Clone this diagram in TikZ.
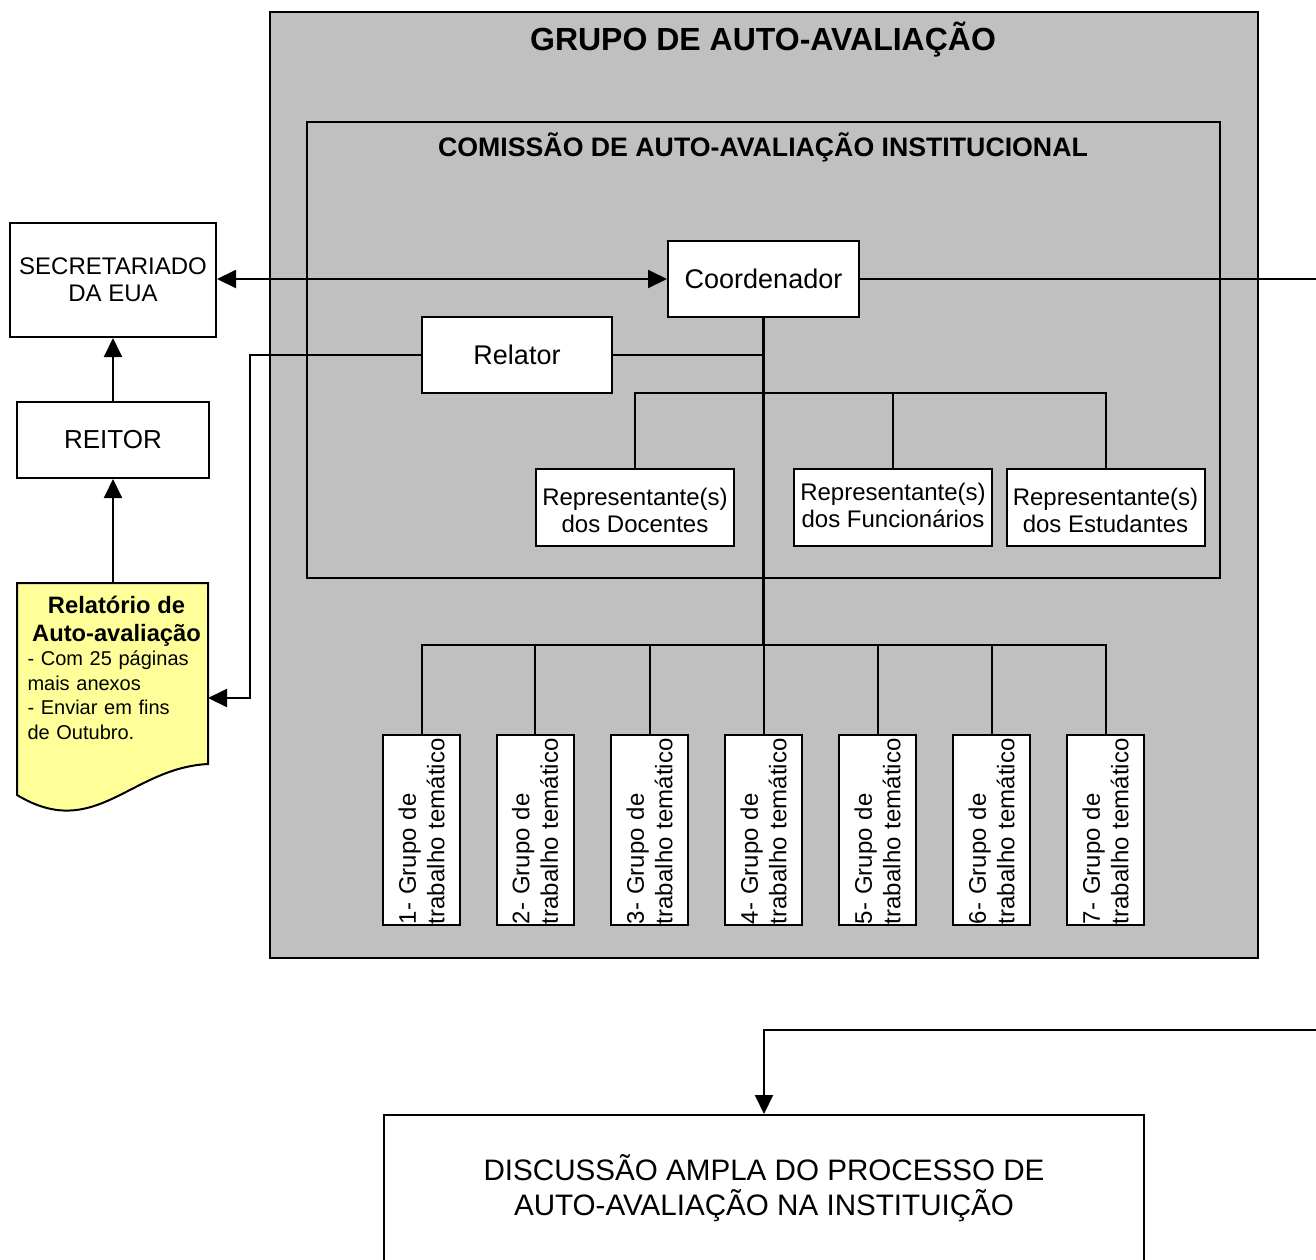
\documentclass[tikz,border=0pt]{standalone}
\usepackage{fontspec}
\setmainfont{Liberation Sans}
\usetikzlibrary{arrows.meta}
\definecolor{panelgray}{HTML}{C0C0C0}
\definecolor{docyellow}{HTML}{FFFF99}
\begin{document}
\begin{tikzpicture}[x=1pt,y=-1pt,line width=2pt,
  box/.style={draw,fill=white,align=center,inner sep=0pt},
  tip/.style={-{Triangle[length=19pt,width=18pt]}},
  tipboth/.style={{Triangle[length=19pt,width=18pt]}-{Triangle[length=19pt,width=18pt]}},
  gbox/.style={draw,fill=white,rotate=90,minimum width=190pt,minimum height=77pt,text width=188pt,inner xsep=1pt,inner ysep=0pt,align=left,font=\fontsize{24}{28.5}\selectfont},
  rep/.style={box,minimum width=198pt,minimum height=77pt,text height=50pt,text depth=0pt,font=\fontsize{24}{27}\selectfont},
  trunk/.style={line width=3pt}]

\useasboundingbox (0,0) rectangle (1316,1259);
\clip (0,0) rectangle (1316,1259);

% outer panel
\draw[fill=panelgray] (270,12) rectangle (1258,958);
\node[font=\fontsize{32}{36}\selectfont\bfseries] (t1) at (763,40) {GRUPO DE AUTO-AVALIAÇÃO};
\draw (307,122) rectangle (1220,578);
\node[font=\fontsize{26.7}{30}\selectfont\bfseries] (t2) at (763,147) {COMISSÃO DE AUTO-AVALIAÇÃO INSTITUCIONAL};

% nodes
\node[box,minimum width=191pt,minimum height=76pt,font=\fontsize{27}{31}\selectfont] (coord) at (763.5,279) {Coordenador};
\node[box,minimum width=190pt,minimum height=76pt,font=\fontsize{27}{31}\selectfont] (rel) at (517,355) {Relator};
\node[box,minimum width=206pt,minimum height=114pt,font=\fontsize{24}{27}\selectfont] (secr) at (113,280) {SECRETARIADO\\DA EUA};
\node[box,minimum width=192pt,minimum height=76pt,font=\fontsize{26}{30}\selectfont] (reitor) at (113,440) {REITOR};

\node[rep] (r1) at (635,507.5) {Representante(s)\\dos Docentes};
\node[rep,text depth=10pt] (r2) at (893,507.5) {Representante(s)\\dos Funcionários};
\node[rep] (r3) at (1105.5,507.5) {Representante(s)\\dos Estudantes};

\node[gbox] (g1) at (421.5,830) {1- Grupo de\\trabalho temático};
\node[gbox] (g2) at (535,830) {2- Grupo de\\trabalho temático};
\node[gbox] (g3) at (649.5,830) {3- Grupo de\\trabalho temático};
\node[gbox] (g4) at (763.5,830) {4- Grupo de\\trabalho temático};
\node[gbox] (g5) at (877.5,830) {5- Grupo de\\trabalho temático};
\node[gbox] (g6) at (991.5,830) {6- Grupo de\\trabalho temático};
\node[gbox] (g7) at (1105.5,830) {7- Grupo de\\trabalho temático};

\node[box,minimum width=760pt,minimum height=147pt,font=\fontsize{29.6}{35}\selectfont] (disc) at (764,1188.5) {DISCUSSÃO AMPLA DO PROCESSO DE\\AUTO-AVALIAÇÃO NA INSTITUIÇÃO};

% document shape
\draw[fill=docyellow] (17,583) -- (208,583) -- (208,764) .. controls (130,768) and (95,842) .. (17,795) -- cycle;
\node[anchor=north west,inner sep=0pt,text width=178pt,align=left,font=\fontsize{20}{24.5}\selectfont] (doc) at (26.5,595)
  {{\centering\fontsize{23.7}{28}\selectfont\bfseries Relatório de\\Auto-avaliação\par}- Com 25 páginas\\mais anexos\\- Enviar em fins\\de Outubro.};

% coordinates
\coordinate (doctop) at (113,583);
\coordinate (docin) at (208,698);
\coordinate (relbend) at (250,355);
\coordinate (rbar) at (763.5,393);
\coordinate (gbar) at (763.5,645);
\coordinate (offA) at (1330,279);
\coordinate (offB) at (1330,1030);

% connectors
\draw[tip] (doctop) -- (reitor.south);
\draw[tip] (reitor.north) -- (secr.south);
\draw[tipboth] (secr.east |- coord.west) -- (coord.west);
\draw[tip] (rel.west) -- (relbend) |- (docin);
\draw (rel.east) -- (rel.east -| coord.south);
\draw[trunk] (coord.south) -- (gbar);
\draw (r1.north) |- (rbar) -| (r3.north);
\draw (r2.north) -- (r2.north |- rbar);
\draw (g1.east) |- (gbar) -| (g7.east);
\foreach \g in {g2,g3,g4,g5,g6} \draw (\g.east) -- (\g.east |- gbar);
\draw (coord.east) -- (offA);
\draw[tip] (offB) -| (disc.north);
\end{tikzpicture}
\end{document}
